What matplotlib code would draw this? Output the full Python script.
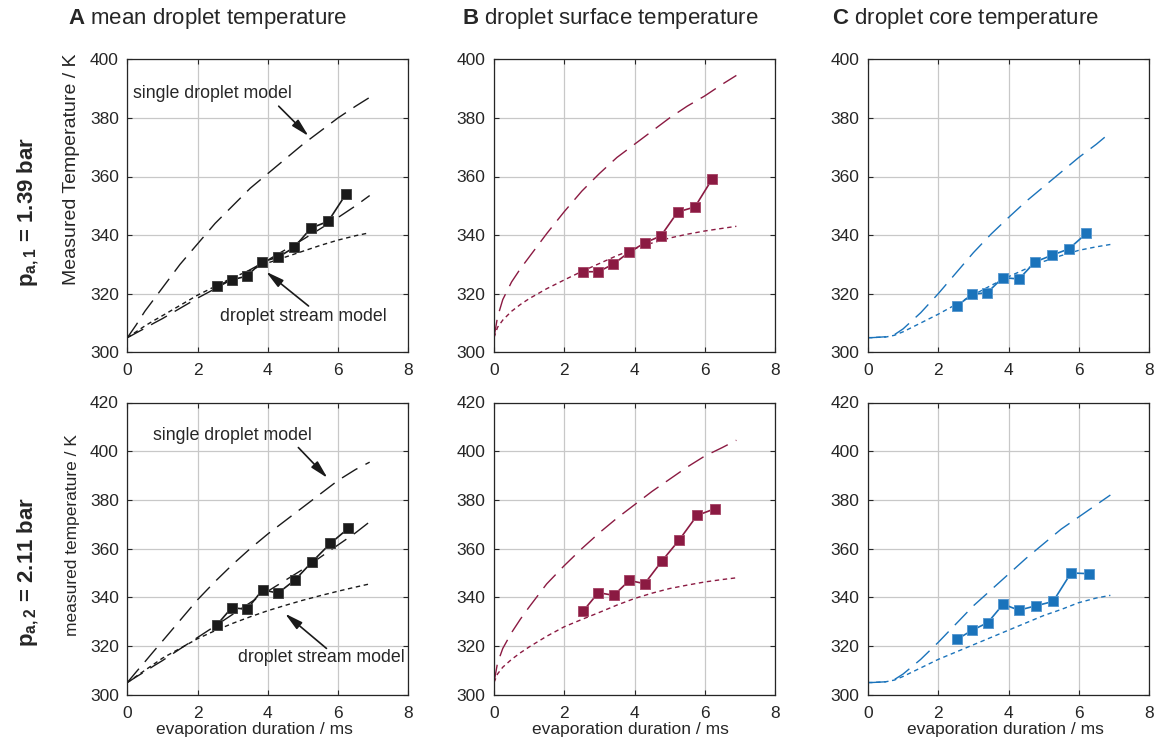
import matplotlib
matplotlib.use("Agg")
import matplotlib.pyplot as plt

plt.rcParams['font.family'] = ['Liberation Sans', 'DejaVu Sans']
plt.rcParams['mathtext.fontset'] = 'custom'
plt.rcParams['mathtext.rm'] = 'Liberation Sans'
plt.rcParams['mathtext.bf'] = 'Liberation Sans:bold'

# ---------------- data ----------------
t_top = [2.54, 2.97, 3.40, 3.84, 4.30, 4.75, 5.23, 5.72, 6.22]
t_bot = [2.54, 2.97, 3.41, 3.85, 4.29, 4.78, 5.27, 5.78, 6.29]

meas_A_top = [322.7, 324.7, 326.0, 330.9, 332.5, 335.8, 342.4, 344.7, 353.9]
meas_B_top = [327.5, 327.5, 330.1, 334.1, 337.4, 339.7, 347.9, 349.6, 359.3]
meas_C_top = [315.9, 319.8, 320.4, 325.5, 325.0, 330.8, 333.1, 335.3, 340.6]
meas_A_bot = [328.5, 335.7, 335.1, 343.1, 341.7, 347.2, 354.7, 362.1, 368.3]
meas_B_bot = [334.4, 341.9, 340.8, 346.9, 345.6, 354.9, 363.5, 373.6, 376.4]
meas_C_bot = [322.8, 326.5, 329.6, 337.2, 334.7, 336.5, 338.3, 350.0, 349.7]

t_model = [0, 0.1, 0.25, 0.5, 0.75, 1, 1.5, 2, 2.5, 3, 3.5, 4, 4.5, 5, 5.5, 6, 6.5, 6.9]

single_A_top = [305, 306.7, 309.3, 314, 318, 322, 330, 337, 344, 350, 356, 361, 366, 371, 375.5, 380, 384, 387]
mid_A_top = [305, 305.6, 306.6, 308.2, 309.9, 311.5, 315, 318.5, 321.7, 325, 328.2, 331.5, 335, 338.5, 342.2, 346, 350, 353.5]
stream_A_top = [305, 305.8, 307, 309, 310.8, 312.5, 316, 319.5, 322.5, 325.5, 328, 330.5, 332.5, 334.5, 336.5, 338.3, 339.8, 340.8]

single_A_bot = [305, 306.7, 309.3, 313.5, 317.8, 322, 330.5, 339, 346.5, 353.5, 360, 366, 371.5, 377, 382.5, 388, 392.5, 395.5]
mid_A_bot = [305, 305.9, 307.3, 309.5, 311.8, 314, 318.8, 323.5, 328.2, 333, 337.8, 342.5, 347, 351.5, 356.5, 361.5, 366.5, 371]
stream_A_bot = [305, 306, 307.5, 310, 312.5, 315, 319, 323, 326.3, 329.3, 332, 334.5, 336.7, 338.8, 340.7, 342.5, 344.2, 345.5]

single_B_top = [305, 312, 318, 324, 328.5, 332.5, 340.5, 348, 355, 361, 366.5, 371, 375.5, 380, 384, 387.5, 391.5, 394.5]
stream_B_top = [305, 308.5, 311, 314, 316.3, 318.3, 321.7, 324.7, 327.6, 330.3, 333, 335.3, 337.3, 339, 340.3, 341.4, 342.3, 343]
single_B_bot = [305, 313, 319, 325.5, 331, 336, 345.5, 353, 360, 366.5, 372.5, 378, 383.5, 388.5, 393.5, 398, 401.5, 404.5]
stream_B_bot = [305, 308.5, 311.3, 314.5, 317.2, 319.6, 324, 327.9, 330.9, 333.8, 336.8, 339.5, 341.7, 343.6, 345, 346.3, 347.3, 348]

single_C_top = [305, 305, 305.1, 305.3, 306, 308, 313.5, 320, 327, 334, 340.3, 346, 351.5, 356.5, 361.5, 366.5, 371, 375]
stream_C_top = [305, 305, 305.1, 305.2, 305.8, 307, 310, 313, 316.3, 319.6, 322.8, 325.8, 328.5, 331, 333, 334.8, 336, 336.8]
single_C_bot = [305, 305, 305.1, 305.3, 306.2, 308.5, 314.5, 321.5, 329, 336.5, 343, 349.5, 356, 362, 368, 373, 378, 382]
stream_C_bot = [305, 305, 305.1, 305.3, 306, 307.5, 311, 314.5, 317.5, 320.5, 323.5, 326.5, 329.5, 332.5, 335, 337.8, 339.7, 340.8]

titles = ["mean droplet temperature", "droplet surface temperature", "droplet core temperature"]
panel_letters = ["A", "B", "C"]
row_labels = [r"$\mathbf{p}_{\mathbf{a,1}}$ = 1.39 bar", r"$\mathbf{p}_{\mathbf{a,2}}$ = 2.11 bar"]
ylabels = ["Measured Temperature / K", "measured temperature / K"]
xlabel = "evaporation duration / ms"
xticks = [0, 2, 4, 6, 8]
yticks_top = [300, 320, 340, 360, 380, 400]
yticks_bot = [300, 320, 340, 360, 380, 400, 420]

colors = ["#1a1a1a", "#8b1a42", "#1a73bb"]
edge_colors = ["#444444", "#a94c6c", "#5a9ad0"]

# ---------------- figure ----------------
W, H = 1160, 751
fig = plt.figure(figsize=(W / 100, H / 100), dpi=100)

lefts = [127.3, 494.0, 868.0]
ax_w = 281.0
rows = [(59.3, 352.3), (402.5, 694.7)]

FS = 12.5
tick_col = "#262626"

meas = [[meas_A_top, meas_B_top, meas_C_top], [meas_A_bot, meas_B_bot, meas_C_bot]]
single = [[single_A_top, single_B_top, single_C_top], [single_A_bot, single_B_bot, single_C_bot]]
stream = [[stream_A_top, stream_B_top, stream_C_top], [stream_A_bot, stream_B_bot, stream_C_bot]]
mids = [mid_A_top, mid_A_bot]
tt = [t_top, t_bot]
xlabel_cx = [0.453, 0.484, 0.489]

axes = {}
for r, (ytop, ybot) in enumerate(rows):
    for c in range(3):
        ax = fig.add_axes([lefts[c] / W, 1 - ybot / H, ax_w / W, (ybot - ytop) / H])
        axes[(r, c)] = ax
        col = colors[c]
        ax.plot(t_model, single[r][c], color=col, lw=1.0, dashes=(13, 6.5))
        if c == 0:
            ax.plot(t_model, mids[r], color=col, lw=1.0, dashes=(13, 6.5))
        ax.plot(t_model, stream[r][c], color=col, lw=1.0, dashes=(3.2, 2.6))
        ax.plot(tt[r], meas[r][c], color=col, lw=1.2, marker='s', markersize=6.8,
                markerfacecolor=col, markeredgecolor=edge_colors[c], markeredgewidth=0.7)
        ax.set_xlim(0, 8)
        yt = yticks_top if r == 0 else yticks_bot
        ax.set_ylim(yt[0], yt[-1])
        ax.set_xticks(xticks)
        ax.set_yticks(yt)
        ax.grid(True, color="#c8c8c8", lw=0.9)
        ax.set_axisbelow(True)
        ax.tick_params(direction='in', length=3.5, width=0.8, top=True, right=True,
                       labelsize=FS, colors=tick_col, pad=6)
        ax.tick_params(axis='x', pad=8)
        for sp in ax.spines.values():
            sp.set_color(tick_col)
            sp.set_linewidth(0.9)
        if r == 1:
            ax.set_xlabel(xlabel, fontsize=FS, color=tick_col)
            ax.xaxis.set_label_coords(xlabel_cx[c], -0.095)

# y labels (placed in figure pixels)
fig.text(72 / W, 1 - 169 / H, ylabels[0], fontsize=14, rotation=90,
         ha='center', va='center', color=tick_col)
fig.text(72 / W, 1 - 535 / H, ylabels[1], fontsize=12.5, rotation=90,
         ha='center', va='center', color=tick_col)

# annotations in panel A
arrow_kw = dict(arrowstyle='-|>,head_length=0.9,head_width=0.22', color='#1a1a1a', lw=1.2,
                shrinkA=0, shrinkB=0, mutation_scale=12)
axA = axes[(0, 0)]
axA.text(0.17, 388.3, "single droplet model", fontsize=12.8, va='center', ha='left', color=tick_col)
axA.annotate("", xy=(5.16, 373.8), xytext=(4.31, 384), arrowprops=arrow_kw)
axA.text(2.63, 312.2, "droplet stream model", fontsize=12.8, va='center', ha='left', color=tick_col)
axA.annotate("", xy=(3.95, 327.5), xytext=(5.16, 315.8), arrowprops=arrow_kw)

axA2 = axes[(1, 0)]
axA2.text(0.73, 406.3, "single droplet model", fontsize=12.8, va='center', ha='left', color=tick_col)
axA2.annotate("", xy=(5.70, 389), xytext=(4.87, 401.5), arrowprops=arrow_kw)
axA2.text(3.16, 315.3, "droplet stream model", fontsize=12.8, va='center', ha='left', color=tick_col)
axA2.annotate("", xy=(4.49, 333.3), xytext=(5.67, 319), arrowprops=arrow_kw)

# panel titles
title_x = [68, 462, 832]
for c in range(3):
    fig.text(title_x[c] / W, 1 - 18.5 / H,
             r"$\mathbf{%s}$ %s" % (panel_letters[c], titles[c]),
             fontsize=16, ha='left', va='center', color=tick_col)

# row labels
row_y = [212, 572]
for r in range(2):
    fig.text(28 / W, 1 - row_y[r] / H, row_labels[r], fontsize=16, fontweight='bold',
             rotation=90, ha='center', va='center', color=tick_col)

fig.savefig("out.png", dpi=100)
